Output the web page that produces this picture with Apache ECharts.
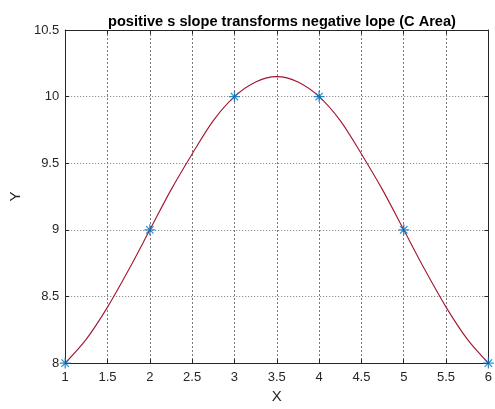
<!DOCTYPE html>
<html>
<head>
<meta charset="utf-8">
<script src="https://cdn.jsdelivr.net/npm/echarts@6/dist/echarts.min.js"></script>
<style>
html,body{margin:0;padding:0;background:#fff;}
#chart{width:495px;height:409px;}
</style>
</head>
<body>
<div id="chart"></div>
<script>
var titleText = 'positive s slope transforms negative lope (C Area)';
var markerX = [1, 2, 3, 4, 5, 6];
var markerY = [8, 9, 10, 10, 9, 8];
var curveX = [1, 1.25, 1.5, 1.75, 2, 2.25, 2.5, 2.75, 3, 3.25, 3.5, 3.75, 4, 4.25, 4.5, 4.75, 5, 5.25, 5.5, 5.75, 6];
var curveY = [8, 8.18, 8.42, 8.70, 9, 9.30, 9.57, 9.82, 10, 10.11, 10.15, 10.11, 10, 9.82, 9.57, 9.30, 9, 8.70, 8.42, 8.18, 8];
var xTicks = ['1', '1.5', '2', '2.5', '3', '3.5', '4', '4.5', '5', '5.5', '6'];
var yTicks = ['8', '8.5', '9', '9.5', '10', '10.5'];

var chart = echarts.init(document.getElementById('chart'), null, {renderer: 'canvas'});
var FONT = 'Liberation Sans, Arial, Helvetica, sans-serif';
var AX = '#262626';
var asterisk = 'path://M5 0L5 10M0 5L10 5M1.6 1.6L8.4 8.4M1.6 8.4L8.4 1.6';

function pairs(xs, ys) { return xs.map(function (x, i) { return [x, ys[i]]; }); }

var commonX = {type: 'value', min: 1, max: 6, interval: 0.5};
var commonY = {type: 'value', min: 8, max: 10.5, interval: 0.5};

chart.setOption({
  animation: false,
  backgroundColor: '#ffffff',
  title: {
    text: titleText,
    left: 277, top: 9, textAlign: 'center',
    textStyle: {fontFamily: FONT, fontSize: 14.6, fontWeight: 'bold', color: '#000'}
  },
  grid: {left: 63, right: 4, top: 30, bottom: 42, containLabel: false},
  xAxis: [
    Object.assign({}, commonX, {
      position: 'bottom',
      name: 'X', nameLocation: 'middle', nameGap: 25,
      nameTextStyle: {fontFamily: FONT, fontSize: 15, color: AX},
      axisLine: {show: true, lineStyle: {color: AX, width: 1}},
      axisTick: {show: true, inside: true, length: 4, lineStyle: {color: AX}},
      axisLabel: {fontFamily: FONT, fontSize: 13, color: AX, margin: 8,
        formatter: function (v) { var i = Math.round((v - 1) / 0.5); return xTicks[i] || ''; }},
      splitLine: {show: true, lineStyle: {color: '#7a7a7a', type: [2, 2], width: 1}}
    }),
    Object.assign({}, commonX, {
      position: 'top',
      axisLine: {show: true, lineStyle: {color: AX, width: 1}},
      axisTick: {show: true, inside: true, length: 4, lineStyle: {color: AX}},
      axisLabel: {show: false},
      splitLine: {show: false}
    })
  ],
  yAxis: [
    Object.assign({}, commonY, {
      position: 'left',
      name: 'Y', nameLocation: 'middle', nameGap: 35, nameRotate: 90,
      nameTextStyle: {fontFamily: FONT, fontSize: 15, color: AX},
      axisLine: {show: true, lineStyle: {color: AX, width: 1}},
      axisTick: {show: true, inside: true, length: 4, lineStyle: {color: AX}},
      axisLabel: {fontFamily: FONT, fontSize: 13, color: AX, margin: 6,
        formatter: function (v) { var i = Math.round((v - 8) / 0.5); return yTicks[i] || ''; }},
      splitLine: {show: true, lineStyle: {color: '#7a7a7a', type: [1, 2], width: 1}}
    }),
    Object.assign({}, commonY, {
      position: 'right',
      axisLine: {show: true, lineStyle: {color: AX, width: 1}},
      axisTick: {show: true, inside: true, length: 4, lineStyle: {color: AX}},
      axisLabel: {show: false},
      splitLine: {show: false}
    })
  ],
  series: [
    {
      type: 'line', xAxisIndex: 0, yAxisIndex: 0,
      data: pairs(curveX, curveY),
      smooth: 0.3, showSymbol: false, symbol: 'none',
      lineStyle: {color: '#A2142F', width: 1.1},
      z: 3
    },
    {
      type: 'scatter', xAxisIndex: 0, yAxisIndex: 0,
      data: pairs(markerX, markerY),
      symbol: asterisk, symbolSize: 11,
      itemStyle: {color: 'rgba(0,0,0,0)', borderColor: '#0072BD', borderWidth: 1.3},
      clip: false,
      z: 4
    }
  ]
});
</script>
</body>
</html>
